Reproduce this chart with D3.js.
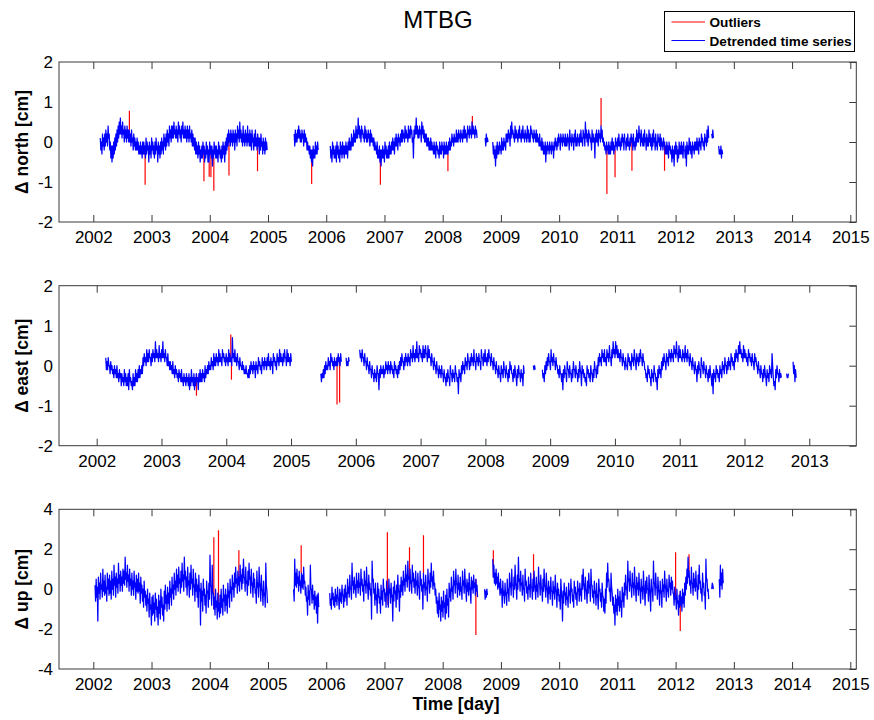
<!DOCTYPE html>
<html>
<head>
<meta charset="utf-8">
<script src="https://cdn.jsdelivr.net/npm/d3@7"></script>
<style>
  body { margin: 0; background: #fff; }
  text { font-family: "Liberation Sans", Arial, Helvetica, sans-serif; }
</style>
</head>
<body>
<svg id="chart" width="874" height="720"></svg>
<script>
// Detrended GPS position residuals, sampled twice a week (values in mm).
const STEP = 3.5 / 365.25;

const yearsLong = [2002, 2003, 2004, 2005, 2006, 2007, 2008, 2009, 2010, 2011, 2012, 2013, 2014, 2015];
const yearsShort = [2002, 2003, 2004, 2005, 2006, 2007, 2008, 2009, 2010, 2011, 2012, 2013];
const ticksNE = [-2, -1, 0, 1, 2];
const ticksUp = [-4, -2, 0, 2, 4];

// ---- North component ----
const northStarts = [2002.12, 2005.45, 2006.07, 2008.73, 2008.86, 2012.62, 2012.74];
const northSegments = [
  [1,-2,0,-3,2,-1,1,-2,2,-1,3,0,2,-1,4,1,2,-2,0,-4,-1,-5,-1,-4,0,-3,
   1,-2,2,-1,3,0,4,1,5,2,6,2,4,1,5,2,3,0,4,1,3,0,4,1,3,0,
   3,0,2,-1,3,0,1,-2,2,-1,1,-2,0,-2,1,-2,0,-3,-1,-3,0,-3,-1,-4,0,-3,
   0,-3,-1,-4,1,-3,0,-2,-1,-5,0,-3,-1,-4,1,-2,0,-3,-1,-4,0,-3,1,-2,-1,-5,
   0,-3,-1,-4,0,-3,1,-2,0,-3,2,-1,1,-2,2,-1,3,0,2,-1,4,1,3,0,4,1,
   4,1,5,2,3,1,4,1,3,0,5,2,4,1,3,0,4,2,5,1,3,1,4,1,3,0,
   4,1,3,0,4,1,2,0,3,-1,2,-1,1,-2,1,-3,0,-3,-1,-4,0,-3,-1,-5,-2,-4,
   -1,-4,0,-3,-1,-5,-2,-4,0,-3,-1,-5,-2,-5,0,-3,-1,-4,-1,-6,-2,-4,0,-3,-1,-4,
   -1,-4,-2,-5,0,-3,-1,-4,-2,-5,-1,-4,0,-3,-1,-5,0,-3,1,-2,2,-1,3,0,2,-1,
   3,0,2,-1,3,0,2,-2,3,0,2,-1,4,1,3,0,5,1,3,0,2,-1,4,0,2,-1,
   3,0,2,-1,4,0,2,-1,3,-1,2,-2,3,0,1,-2,2,-1,3,-1,1,-2,2,-1,1,-3,
   1,-2,2,-1,0,-3,1,-2,0,-3,1,-2,0,-2],
  [2,-1,3,0,2,0,3,1,4,1,3,0,2,0,3,1,2,-1,3,0,2,0,1,-2,0,-2,-1,-3,-1,-4,-2,-5,-2,-6,-1,-4,-2,-4,0,-3,-1,-3,0,-2],
  [-1,-4,-2,-5,0,-3,-1,-4,-2,-4,-1,-5,0,-3,-1,-4,-2,-5,0,-3,-1,-4,0,-3,-1,-4,
   -1,-3,0,-3,-1,-4,0,-2,1,-2,0,-2,2,-1,1,-1,3,0,2,0,4,1,3,1,6,2,
   4,1,3,0,4,2,3,1,2,0,4,1,3,0,2,0,3,1,2,-1,3,0,2,0,1,-1,
   1,-2,0,-2,-1,-3,0,-4,-2,-4,-1,-5,-2,-6,-2,-4,-1,-4,-2,-5,0,-3,-1,-4,-2,-4,
   -1,-4,0,-3,-1,-3,0,-2,1,-2,0,-3,1,-1,2,-1,1,-2,2,0,1,-1,2,0,3,0,
   3,1,2,0,4,1,3,1,2,0,4,1,3,1,4,2,3,0,1,-4,3,1,4,2,6,2,
   4,1,3,1,4,2,3,0,5,2,4,1,3,0,2,0,2,-1,1,-1,1,-2,0,-2,1,-2,
   0,-2,-1,-3,0,-3,-1,-4,0,-2,-1,-3,-2,-4,0,-3,-1,-3,0,-2,-1,-4,0,-3,-1,-3,
   0,-3,-1,-3,0,-2,1,-2,0,-1,2,0,1,-1,2,0,1,0,3,0,2,0,3,1,2,0,
   3,1,2,0,3,1,4,1,3,1,2,0,4,2,3,1,4,2,3,1,5,2,4,2,3,1,
   4,2,3,1],
  [1,-1,2,0,1,0],
  [0,-3,-1,-4,-2,-6,-1,-4,0,-3,-1,-3,0,-2,-1,-3,1,-2,0,-2,1,-1,0,-2,2,0,
   2,0,3,1,2,-1,4,1,5,2,3,1,2,0,4,1,3,1,2,0,3,1,4,1,2,0,
   3,1,4,1,2,0,3,1,2,0,4,1,3,0,2,0,4,2,3,1,2,0,3,1,2,0,
   3,0,2,0,1,-1,2,-1,0,-2,1,-2,0,-3,-1,-3,0,-5,-1,-3,0,-2,-1,-3,0,-2,
   -1,-3,0,-2,-1,-4,0,-2,1,-1,0,-2,1,-1,2,0,1,-2,2,0,1,-1,2,0,1,-1,
   2,-1,1,-1,2,0,1,-2,3,0,1,-1,2,0,1,-2,2,0,3,-1,1,-1,2,0,1,-1,
   2,0,3,0,1,-1,3,1,2,-1,5,1,3,0,2,-1,3,1,2,0,1,-2,3,0,2,0,
   1,-4,2,0,3,0,2,-1,3,1,2,0,4,1,3,0,1,-1,0,-2,-1,-3,0,-2,-1,-3,
   0,-3,-1,-3,0,-2,1,-2,0,-3,-1,-2,1,-1,0,-2,1,-1,2,-1,0,-2,1,-1,2,0,
   1,-2,2,0,0,-2,1,-1,2,-1,0,-2,1,-1,2,0,1,-2,2,-1,0,-2,1,-1,3,0,
   2,0,4,1,2,-1,3,0,1,-1,2,-1,3,0,1,-2,2,-1,1,-1,3,0,2,-1,1,-2,
   2,-1,3,0,1,-2,2,-1,0,-2,2,0,1,-1,2,-2,1,-1,0,-2,1,-1,0,-3,-1,-3,
   0,-3,-1,-4,0,-2,-1,-3,-2,-5,-1,-4,-2,-6,-1,-3,0,-3,-1,-5,-2,-4,0,-3,-1,-3,
   0,-3,-1,-4,0,-2,-2,-4,-1,-6,0,-3,-1,-3,1,-2,0,-3,-1,-4,0,-2,-1,-3,0,-2,
   0,-2,1,-2,0,-3,1,-1,0,-2,2,0,1,-1,0,-2,2,0,1,-1,3,0,4,1],
  [2,1,3,1],
  [-1,-3,-2,-3,-1,-4,-2,-3]
];
// rejected epochs: [decimal year, value in cm]
const northOutliers = [
  [2002.62, 0.78], [2002.89, -1.07], [2003.90, -0.98], [2003.99, -0.87], [2004.02, -0.88],
  [2004.07, -1.22], [2004.33, -0.84], [2004.82, -0.73], [2005.75, -1.05], [2006.93, -1.07],
  [2008.09, -0.73], [2008.51, 0.65], [2010.72, 1.10], [2010.82, -1.30], [2010.96, -0.88],
  [2011.25, -0.72], [2011.81, -0.72]
];

// ---- East component ----
const eastStarts = [2002.14, 2005.46, 2005.85, 2006.06, 2008.74, 2008.88, 2012.65, 2012.75];
const eastSegments = [
  [2,-1,1,-1,2,0,0,-2,1,-1,0,-2,-1,-3,0,-2,-1,-3,0,-3,-2,-4,-1,-3,-2,-5,
   -2,-4,-3,-5,-1,-4,-2,-5,-3,-5,-2,-6,-1,-4,-3,-5,-4,-6,-2,-5,-3,-5,-1,-4,-2,-4,
   -1,-3,0,-3,-1,-2,0,-2,2,0,3,1,2,0,4,1,3,1,4,2,2,0,3,1,4,2,
   3,1,6,2,4,2,3,1,5,2,3,1,4,2,6,2,3,1,4,2,2,0,3,0,1,-1,
   1,-1,0,-2,1,-2,-1,-3,0,-2,-1,-3,-2,-4,-1,-3,-2,-4,-1,-4,-3,-5,-2,-4,-3,-5,
   -2,-4,-3,-5,-2,-6,-3,-5,-1,-4,-3,-5,-2,-6,-3,-5,-2,-4,-3,-6,-2,-4,-1,-4,-2,-4,
   -1,-3,-2,-4,0,-3,-1,-2,0,-2,1,-1,0,-1,2,0,1,-1,3,0,2,0,3,1,2,0,
   4,1,3,1,2,0,4,2,3,1,2,0,3,1,2,0,4,1,3,1,2,0,7,2,3,1,
   4,1,2,0,3,1,1,-1,2,0,0,-1,1,-1,0,-2,-1,-2,0,-2,-2,-3,-1,-3,0,-2,
   1,-1,0,-2,1,-1,0,-3,1,-1,0,-2,2,0,1,-1,0,-2,2,0,1,-1,2,0,1,-1,
   2,0,3,0,1,-1,2,0,1,-2,3,1,2,0,1,-1,3,1,2,0,4,1,3,1,2,0,
   3,1,4,2,2,0,4,1,3,1,2,0,3,1],
  [-2,-4,-2,-3,-1,-3,0,-2,1,-1,0,-1,2,0,1,-1,3,1,2,0,1,-1,2,0,1,0,2,0,3,1,2,0,3,1],
  [2,0,1,0,2,1],
  [4,2,3,1,4,2,2,0,3,1,1,-1,2,0,0,-2,1,-1,-1,-3,0,-2,-2,-4,-1,-3,
   -2,-4,0,-2,-2,-6,-1,-3,0,-2,-1,-2,0,-3,-1,-2,1,-1,0,-2,1,-1,0,-2,1,-1,
   0,-2,-1,-3,1,-1,0,-2,-1,-3,0,-2,1,-1,2,0,3,1,1,-1,2,0,3,1,2,0,
   3,1,2,0,4,2,3,1,5,2,3,1,4,2,6,2,3,1,5,3,4,2,3,1,5,2,
   4,2,5,3,3,1,5,2,4,2,2,0,3,1,1,-1,2,0,0,-2,1,-1,-1,-3,0,-2,
   -1,-3,0,-2,-2,-4,-1,-3,-3,-5,-2,-4,-1,-3,-3,-5,0,-2,-2,-4,-1,-3,-2,-4,0,-2,
   -2,-4,-3,-7,-1,-3,-2,-4,0,-2,1,-1,0,-2,2,0,1,-1,3,1,1,-1,2,0,3,1,
   2,0,4,1,1,-1,3,1,2,0,3,1,1,-1,4,2,2,0,3,1,4,1,2,0,3,1,
   4,2,2,0,3,1,1,-1,2,0,0,-2,1,-1,-1,-3,0,-2,-2,-4,0,-2,-1,-3,1,-1,
   -1,-3,0,-2,-2,-4,-1,-3,1,-1,0,-2,-2,-4,-1,-3,0,-2,-3,-5,-1,-3,0,-2,-2,-4,
   -1,-3,-2,-5,0,-2],
  [0,-1,0,-1],
  [-1,-3,-2,-4,0,-2,1,-1,2,0,3,1,1,-1,4,1,2,0,3,1,1,-1,2,0,0,-2,
   -1,-3,0,-2,-2,-4,-2,-6,-1,-3,0,-2,-2,-4,1,-1,-1,-3,0,-2,-2,-4,-1,-3,1,-1,
   -1,-3,0,-2,-2,-4,-1,-3,1,-1,-2,-5,0,-2,-1,-3,-2,-4,-3,-5,0,-2,-1,-3,-2,-4,
   0,-2,-2,-4,-1,-3,1,-1,-1,-3,0,-2,2,0,3,1,2,0,4,2,3,1,4,1,2,0,
   4,2,3,1,5,2,2,0,4,2,6,3,4,2,6,3,5,2,4,2,3,1,4,2,2,0,
   3,1,1,-1,2,0,0,-1,3,1,2,0,1,-1,3,1,2,0,4,2,1,-1,3,1,2,0,
   3,1,4,2,2,0,3,1,1,-1,-1,-3,-2,-4,0,-2,-1,-3,-3,-5,-1,-3,-2,-4,0,-2,
   -2,-4,-3,-6,-1,-3,0,-2,-1,-3,1,-1,2,0,3,1,1,-1,3,1,2,0,4,2,3,1,
   4,2,3,1,5,3,4,2,6,3,3,1,5,2,4,2,2,1,4,2,3,1,5,2,3,1,
   4,2,2,0,3,1,1,-1,2,0,0,-2,1,-1,-1,-4,0,-2,1,-1,-1,-3,2,0,0,-2,
   1,-1,-1,-3,0,-2,-2,-4,-1,-3,0,-2,-3,-5,-2,-7,-1,-3,-2,-4,0,-2,-1,-3,-2,-4,
   0,-2,-1,-3,1,-1,0,-2,2,0,0,-2,1,-1,2,0,1,-1,3,1,2,0,1,-1,3,1,
   4,2,3,1,5,3,6,3,4,2,3,1,5,2,4,2,3,1,2,0,4,2,3,1,2,0,
   3,1,1,-1,3,1,2,0,0,-2,1,-1,-1,-3,0,-2,-2,-4,-1,-3,0,-2,-3,-5,-1,-3,
   -2,-4,0,-2,-1,-3,3,0,-3,-5,-4,-6,-1,-3,0,-2,-2,-4,-1,-3,-2,-3],
  [-2,-3,-3,-2],
  [1,-2,0,-4,-1,-3]
];
const eastOutliers = [
  [2003.54, -0.75], [2004.07, 0.78], [2004.08, -0.35], [2005.71, -0.97], [2005.75, -0.92]
];

// ---- Up component ----
const upStarts = [2002.03, 2005.44, 2006.06, 2008.72, 2008.86, 2012.62, 2012.75];
const upSegments = [
  [2,-6,5,-4,1,-16,6,-2,3,-5,8,0,2,-4,10,-1,4,-3,7,-2,1,-6,8,0,5,-3,
   7,-2,4,-5,9,0,5,-3,12,2,6,-4,8,1,5,-2,13,3,7,-1,9,2,6,-1,10,3,
   9,2,16,5,8,1,12,4,7,-1,10,2,5,-3,8,0,4,-3,9,1,3,-5,7,-1,5,-2,
   8,-1,3,-7,6,-2,2,-6,0,-9,4,-4,-1,-8,-3,-11,0,-7,-5,-14,-2,-10,-8,-18,-4,-13,
   -3,-12,-7,-16,-2,-10,-5,-14,-9,-18,-3,-12,-6,-15,0,-9,-4,-13,-8,-16,-1,-10,2,-7,-3,-11,
   1,-7,-2,-10,4,-4,0,-8,6,-2,2,-5,8,0,4,-3,10,1,7,-1,11,3,5,-2,9,1,
   13,4,7,-1,16,5,9,1,6,-3,11,2,4,-4,8,0,12,3,5,-3,10,1,2,-6,8,-1,
   5,-4,2,-9,7,-1,0,-18,3,-6,-1,-11,5,-3,0,-8,-3,-12,4,-2,-1,-9,3,-5,17,2,
   1,-8,12,-2,-2,-10,-4,-13,0,-9,-6,-15,-2,-11,-7,-14,-3,-12,0,-9,-5,-13,2,-6,-3,-11,
   0,-8,-3,-12,3,-4,-1,-9,5,-2,1,-6,7,0,3,-4,8,1,11,3,5,-2,9,2,6,-1,
   12,4,7,0,10,3,15,6,6,-1,11,3,4,-3,9,2,13,5,6,-2,10,2,3,-4,8,1,
   5,-2,0,-7,9,1,3,-4,11,3,1,-6,7,0,-1,-8,4,-3,-2,-9,13,2,-1,-7],
  [0,-6,15,2,8,1,10,3,6,-1,9,2,4,-2,8,1,7,0,11,3,4,-3,1,-6,-4,-13,2,-5,-1,-8,12,0,0,-7,2,-5,-3,-10,-1,-8,-4,-12,-3,-17,-2,-9],
  [-2,-8,-5,-10,1,-5,-2,-8,-4,-9,0,-6,-3,-8,1,-4,-5,-10,0,-6,-2,-7,2,-3,-3,-9,
   0,-6,2,-4,-2,-8,5,-2,1,-4,7,0,0,-5,13,2,4,-2,6,0,2,-4,8,1,4,-2,
   8,1,3,-3,10,2,5,-1,2,-6,9,2,4,-2,11,3,1,-5,7,0,3,-3,0,-15,14,4,
   5,-2,0,-8,3,-5,-3,-12,3,-4,0,-7,-4,-12,2,-5,-1,-8,5,-1,0,-6,-2,-9,4,-3,
   -1,-9,5,-2,0,-7,3,-4,-3,-16,1,-6,4,-2,-1,-9,2,-5,7,0,-2,-11,2,-4,6,-1,
   4,-3,9,2,5,-1,12,4,7,1,14,5,6,-1,10,3,4,-2,12,4,8,1,5,-2,9,2,
   4,-3,8,1,1,-5,9,2,5,-1,2,-10,8,1,3,-3,7,0,1,-6,10,3,4,-2,8,1,
   13,4,6,0,9,2,3,-3,0,-7,-4,-12,-6,-14,-2,-10,-8,-16,-4,-11,-6,-14,-1,-9,-7,-15,
   -3,-12,0,-8,-5,-14,3,-4,0,-6,6,-1,1,-5,9,2,4,-2,10,3,2,-4,7,0,3,-3,
   6,-1,1,-5,9,2,4,-2,10,3,0,-6,5,-1,3,-3,8,1,-1,-7,6,0,4,-2,7,1,
   3,-3,5,-1,2,-4],
  [0,-5,-1,-4,0,-3],
  [15,6,12,3,8,2,10,3,6,0,8,1,3,-3,5,-2,0,-9,4,-3,-1,-7,3,-3,-2,-8,
   5,-2,0,-6,8,1,3,-3,10,2,2,-4,6,0,12,3,1,-5,7,0,16,4,5,-1,9,2,
   3,-3,7,0,0,-6,10,2,4,-2,1,-5,6,0,2,-4,8,1,1,-5,5,-1,9,2,0,-5,
   6,-1,2,-4,11,3,3,-3,7,1,0,-6,5,-1,10,2,1,-4,8,1,-1,-7,4,-2,1,-5,
   6,-1,-1,-8,4,-2,1,-5,7,0,-2,-9,3,-3,0,-6,-3,-10,5,-1,-5,-16,-1,-7,3,-3,
   -2,-8,1,-5,-4,-9,3,-3,-1,-7,5,-1,0,-6,-3,-9,4,-2,1,-5,-2,-8,4,-1,0,-6,
   3,-3,0,-6,7,0,10,3,1,-5,6,0,-1,-7,4,-2,8,2,0,-6,10,2,2,-4,-1,-7,
   4,-2,-1,-8,3,-4,-3,-10,5,-1,0,-6,-2,-9,3,-3,-4,-11,-5,-12,0,-7,8,1,13,4,
   5,-1,0,-6,8,1,-2,-8,-4,-12,-8,-18,-3,-11,-5,-13,0,-8,-4,-11,-1,-9,-6,-14,1,-6,
   -2,-9,3,-3,7,0,1,-5,14,4,5,-1,9,2,2,-4,8,1,3,-3,11,2,0,-6,6,0,
   3,-3,8,1,-1,-7,5,-1,1,-5,9,2,-2,-8,4,-2,6,0,0,-6,7,1,-4,-11,5,-1,
   0,-6,14,3,3,-3,8,1,1,-5,6,0,-2,-8,4,-2,-1,-9,5,-1,2,-4,9,2,0,-6,
   5,-1,0,-4,7,1,3,-3,6,0,4,-2,-2,-8,1,-5,-4,-10,0,-7,-6,-13,-3,-9,-1,-8,
   -4,-11,0,-7,-2,-9,3,-3,6,0,10,3,16,6,9,2,4,-2,11,3,3,-3,8,1,5,-1,
   9,2,1,-5,7,0,12,3,4,-2,0,-6,8,1,3,-3,-2,-10,15,4,5,-1,0,-5],
  [0,3,2,0],
  [5,-4,12,2,8,0,10,3]
];
const upOutliers = [
  [2004.07, 2.60], [2004.15, 2.95], [2004.50, 1.95], [2005.57, 2.20], [2007.05, 2.85],
  [2007.06, -0.80], [2007.43, 2.10], [2007.67, 2.70], [2008.57, -2.30], [2008.87, 1.95],
  [2009.56, 1.75], [2012.00, 1.85], [2012.08, -2.10], [2012.23, 1.75]
];

// ---- Layout ----
const PLOT_LEFT = 59, PLOT_RIGHT = 856.3;
const panels = [
  { label: "\u0394 north [cm]", top: 62, bottom: 222, xDomain: [2001.411, 2015.103],
    years: yearsLong, yDomain: [-2, 2], yTicks: ticksNE,
    starts: northStarts, segments: northSegments, outliers: northOutliers },
  { label: "\u0394 east [cm]", top: 285.7, bottom: 445.7, xDomain: [2001.418, 2013.726],
    years: yearsShort, yDomain: [-2, 2], yTicks: ticksNE,
    starts: eastStarts, segments: eastSegments, outliers: eastOutliers },
  { label: "\u0394 up [cm]", top: 509.3, bottom: 669, xDomain: [2001.411, 2015.103],
    years: yearsLong, yDomain: [-4, 4], yTicks: ticksUp,
    starts: upStarts, segments: upSegments, outliers: upOutliers }
];

const svg = d3.select("#chart");
const AXIS = "#3a3a3a";
const TICK = 7;

panels.forEach(p => {
  const x = d3.scaleLinear().domain(p.xDomain).range([PLOT_LEFT, PLOT_RIGHT]);
  const y = d3.scaleLinear().domain(p.yDomain).range([p.bottom, p.top]);
  const g = svg.append("g");

  // one path per continuous run so gaps in the record stay open
  const runs = p.segments.map((vals, k) =>
    vals.map((v, i) => ({ t: p.starts[k] + i * STEP, v: v / 10 })));
  const all = runs.flat();
  const line = d3.line().x(d => x(d.t)).y(d => y(d.v));

  // outliers: spike from the nearest kept sample to the rejected value
  p.outliers.forEach(([t, v]) => {
    const near = d3.least(all, d => Math.abs(d.t - t));
    g.append("path")
      .attr("d", line([{ t: t, v: near.v }, { t: t, v: v }]))
      .attr("fill", "none").attr("stroke", "#ff0000").attr("stroke-width", 1.2);
  });

  runs.forEach(r => {
    g.append("path")
      .attr("d", line(r))
      .attr("fill", "none").attr("stroke", "#0000ff").attr("stroke-width", 1.25)
      .attr("stroke-linejoin", "round");
  });

  // frame
  g.append("rect")
    .attr("x", PLOT_LEFT).attr("y", p.top)
    .attr("width", PLOT_RIGHT - PLOT_LEFT).attr("height", p.bottom - p.top)
    .attr("fill", "none").attr("stroke", AXIS).attr("stroke-width", 1);

  // bottom axis with year labels, ticks pointing inward
  const xb = g.append("g").attr("transform", `translate(0,${p.bottom})`)
    .call(d3.axisBottom(x).tickValues(p.years).tickSize(-TICK).tickPadding(9)
      .tickFormat(d => String(d)));
  // top ticks
  const xt = g.append("g").attr("transform", `translate(0,${p.top})`)
    .call(d3.axisTop(x).tickValues(p.years).tickSize(-TICK).tickFormat(""));
  // left labels
  const yl = g.append("g").attr("transform", `translate(${PLOT_LEFT},0)`)
    .call(d3.axisLeft(y).tickValues(p.yTicks).tickSize(0).tickPadding(6)
      .tickFormat(d => String(d)));
  // right ticks
  const yr = g.append("g").attr("transform", `translate(${PLOT_RIGHT},0)`)
    .call(d3.axisRight(y).tickValues(p.yTicks).tickSize(-TICK).tickFormat(""));

  [xb, xt, yl, yr].forEach(a => {
    a.select(".domain").remove();
    a.selectAll("line").attr("stroke", AXIS);
    a.selectAll("text").attr("fill", "#000").style("font-size", "17px");
  });

  // y label
  g.append("text")
    .attr("transform", `translate(27.5,${(p.top + p.bottom) / 2}) rotate(-90)`)
    .attr("text-anchor", "middle")
    .style("font-size", "17.5px").style("font-weight", "bold")
    .text(p.label);
});

// title
svg.append("text").attr("x", 438).attr("y", 28).attr("text-anchor", "middle")
  .style("font-size", "24px").text("MTBG");

// x label
svg.append("text").attr("x", 456).attr("y", 710).attr("text-anchor", "middle")
  .style("font-size", "17.5px").style("font-weight", "bold").text("Time [day]");

// legend
const legendItems = [
  { name: "Outliers", color: "#ff0000" },
  { name: "Detrended time series", color: "#0000ff" }
];
const lg = svg.append("g");
lg.append("rect").attr("x", 664.5).attr("y", 11.5).attr("width", 190).attr("height", 40)
  .attr("fill", "#fff").attr("stroke", "#000").attr("stroke-width", 1);
legendItems.forEach((it, i) => {
  const cy = 22 + i * 18.5;
  lg.append("line").attr("x1", 671.5).attr("x2", 705).attr("y1", cy).attr("y2", cy)
    .attr("stroke", it.color).attr("stroke-width", 1);
  lg.append("text").attr("x", 709.5).attr("y", cy + 5)
    .style("font-size", "13.6px").style("font-weight", "bold").text(it.name);
});
</script>
</body>
</html>
